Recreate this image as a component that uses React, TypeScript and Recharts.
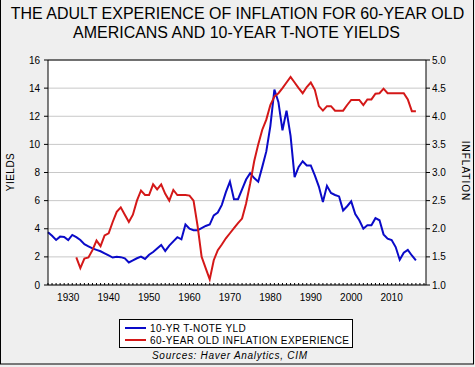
import { CartesianGrid, Legend, Line, LineChart, ReferenceLine, XAxis, YAxis } from "recharts";

const years = [
  1925, 1926, 1927, 1928, 1929, 1930, 1931, 1932, 1933, 1934, 1935, 1936, 1937, 1938, 1939,
  1940, 1941, 1942, 1943, 1944, 1945, 1946, 1947, 1948, 1949, 1950, 1951, 1952, 1953, 1954,
  1955, 1956, 1957, 1958, 1959, 1960, 1961, 1962, 1963, 1964, 1965, 1966, 1967, 1968, 1969,
  1970, 1971, 1972, 1973, 1974, 1975, 1976, 1977, 1978, 1979, 1980, 1981, 1982, 1983, 1984,
  1985, 1986, 1987, 1988, 1989, 1990, 1991, 1992, 1993, 1994, 1995, 1996, 1997, 1998, 1999,
  2000, 2001, 2002, 2003, 2004, 2005, 2006, 2007, 2008, 2009, 2010, 2011, 2012, 2013, 2014,
  2015, 2016,
];

// 10-year T-note yield, left axis
const tnoteYield = [
  3.75, 3.5, 3.2, 3.44, 3.42, 3.2, 3.56, 3.4, 3.2, 2.9, 2.75, 2.6, 2.5, 2.4, 2.25,
  2.1, 1.95, 2.0, 1.98, 1.9, 1.6, 1.75, 1.9, 2.02, 1.85, 2.15, 2.35, 2.6, 2.85, 2.42,
  2.8, 3.1, 3.4, 3.25, 4.3, 4.0, 3.9, 3.9, 4.05, 4.2, 4.3, 4.95, 5.15, 5.7, 6.6,
  7.35, 6.1, 6.1, 6.8, 7.5, 7.95, 7.6, 7.35, 8.4, 9.5, 11.3, 13.9, 13.0, 11.0, 12.4,
  10.6, 7.67, 8.4, 8.8, 8.5, 8.5, 7.8, 7.0, 5.9, 7.05, 6.55, 6.4, 6.3, 5.3, 5.6,
  5.95, 5.05, 4.6, 4.0, 4.25, 4.25, 4.75, 4.6, 3.6, 3.3, 3.2, 2.7, 1.8, 2.3, 2.5,
  2.1, 1.75,
];

// 60-year-old inflation experience, right axis (starts 1932)
const inflationExperience = [
  null, null, null, null, null, null, null, 1.49, 1.3, 1.47, 1.49, 1.62, 1.79, 1.69, 1.88,
  1.92, 2.12, 2.3, 2.38, 2.25, 2.12, 2.25, 2.5, 2.68, 2.6, 2.6, 2.79, 2.7, 2.79, 2.62,
  2.5, 2.69, 2.6, 2.6, 2.6, 2.59, 2.5, 2.05, 1.5, 1.3, 1.1, 1.44, 1.62, 1.72, 1.83,
  1.92, 2.01, 2.1, 2.18, 2.45, 2.8, 3.2, 3.5, 3.76, 3.94, 4.2, 4.35, 4.41, 4.5, 4.6,
  4.7, 4.6, 4.5, 4.41, 4.52, 4.6, 4.47, 4.18, 4.1, 4.18, 4.18, 4.1, 4.1, 4.1, 4.2,
  4.29, 4.29, 4.29, 4.2, 4.3, 4.3, 4.4, 4.41, 4.49, 4.41, 4.41, 4.41, 4.41, 4.41, 4.3,
  4.09, 4.09,
];

const yieldTicks = [0, 2, 4, 6, 8, 10, 12, 14, 16];
const inflationTicks = [1.0, 1.5, 2.0, 2.5, 3.0, 3.5, 4.0, 4.5, 5.0];
const decadeLabels = [1930, 1940, 1950, 1960, 1970, 1980, 1990, 2000, 2010];

const data = years.map((year, i) => ({
  year,
  yld: tnoteYield[i],
  infl: inflationExperience[i],
}));

// one minor tick per year along the bottom axis
const yearTicks: number[] = [];
for (let y = 1925; y <= 2018; y++) yearTicks.push(y);

const FONT = "'Liberation Sans', Arial, sans-serif";
const BLUE = "#0a0ac8";
const RED = "#d41818";

function YearTick({ x, y, payload }: any) {
  if (!decadeLabels.includes(payload.value)) return null;
  return (
    <text x={x} y={y + 16} textAnchor="middle" fontSize={10} fontFamily={FONT} fill="#000">
      {payload.value}
    </text>
  );
}

function ChartLegend({ payload }: any) {
  return (
    <div style={{ width: 234, height: 29, background: "#fff", border: "1px solid #000", boxSizing: "border-box" }}>
      <svg width={232} height={27} style={{ display: "block" }}>
        {(payload || []).map((p: any, i: number) => (
          <g key={p.value}>
            <line x1={5} x2={26} y1={8 + i * 12} y2={8 + i * 12} stroke={p.color} strokeWidth={2} />
            <text x={30} y={12 + i * 12} fontSize={10} fontFamily={FONT} fill="#000" letterSpacing={0.4}>
              {p.value}
            </text>
          </g>
        ))}
      </svg>
    </div>
  );
}

export default function App() {
  return (
    <div style={{ position: "fixed", left: 0, top: 0, width: 475, height: 367, background: "#efefef", overflow: "hidden" }}>
      <LineChart
        width={475}
        height={367}
        data={data}
        margin={{ top: 60, right: 0, bottom: 62, left: 0 }}
      >
        <CartesianGrid yAxisId="left" vertical={false} stroke="#c8c8c8" fill="#fff" />
        <XAxis
          dataKey="year"
          type="number"
          domain={[1925, 2018.5]}
          ticks={yearTicks}
          interval={0}
          height={20}
          tickSize={-2}
          tickMargin={2}
          tickLine={{ stroke: "#000" }}
          axisLine={{ stroke: "#000" }}
          tick={YearTick}
        />
        <YAxis
          yAxisId="left"
          domain={[0, 16]}
          ticks={yieldTicks}
          width={48}
          tickSize={4}
          tickMargin={4}
          interval={0}
          axisLine={{ stroke: "#000" }}
          tickLine={{ stroke: "#000" }}
          tick={{ fontSize: 10, fontFamily: FONT, fill: "#000" }}
        />
        <YAxis
          yAxisId="right"
          orientation="right"
          domain={[1, 5]}
          ticks={inflationTicks}
          width={49}
          tickSize={4}
          tickMargin={2}
          interval={0}
          axisLine={{ stroke: "#000" }}
          tickLine={{ stroke: "#000" }}
          tickFormatter={(v: number) => v.toFixed(1)}
          tick={{ fontSize: 10, fontFamily: FONT, fill: "#000" }}
        />
        <ReferenceLine yAxisId="left" y={16} stroke="#000" />
        <Line
          yAxisId="left"
          dataKey="yld"
          name="10-YR T-NOTE YLD"
          stroke={BLUE}
          strokeWidth={2}
          dot={false}
          isAnimationActive={false}
        />
        <Line
          yAxisId="right"
          dataKey="infl"
          name="60-YEAR OLD INFLATION EXPERIENCE"
          stroke={RED}
          strokeWidth={2}
          dot={false}
          isAnimationActive={false}
        />
        <Legend
          layout="vertical"
          align="center"
          verticalAlign="middle"
          content={ChartLegend}
          wrapperStyle={{ left: 119, top: 319, width: 234, height: 29 }}
        />
      </LineChart>
      <svg
        width={475}
        height={367}
        style={{ position: "absolute", left: 0, top: 0, pointerEvents: "none" }}
        fontFamily={FONT}
      >
        <g transform="translate(237.5 18.5) scale(0.94 1)">
          <text x={0} y={0} textAnchor="middle" fontSize={17}>
            THE ADULT EXPERIENCE OF INFLATION FOR 60-YEAR OLD
          </text>
        </g>
        <g transform="translate(236.5 37.5) scale(0.94 1)">
          <text x={0} y={0} textAnchor="middle" fontSize={17}>
            AMERICANS AND 10-YEAR T-NOTE YIELDS
          </text>
        </g>
        <text x={14} y={172} transform="rotate(-90 14 172)" textAnchor="middle" fontSize={10} letterSpacing={0.5}>
          YIELDS
        </text>
        <text x={462} y={171} transform="rotate(90 462 171)" textAnchor="middle" fontSize={10} letterSpacing={1}>
          INFLATION
        </text>
        <text x={152} y={359} fontSize={10} fontStyle="italic" textLength={155} lengthAdjust="spacing">
          Sources:  Haver Analytics, CIM
        </text>
        <rect x={0.5} y={-2} width={473} height={366} fill="none" stroke="#000" />
      </svg>
    </div>
  );
}
